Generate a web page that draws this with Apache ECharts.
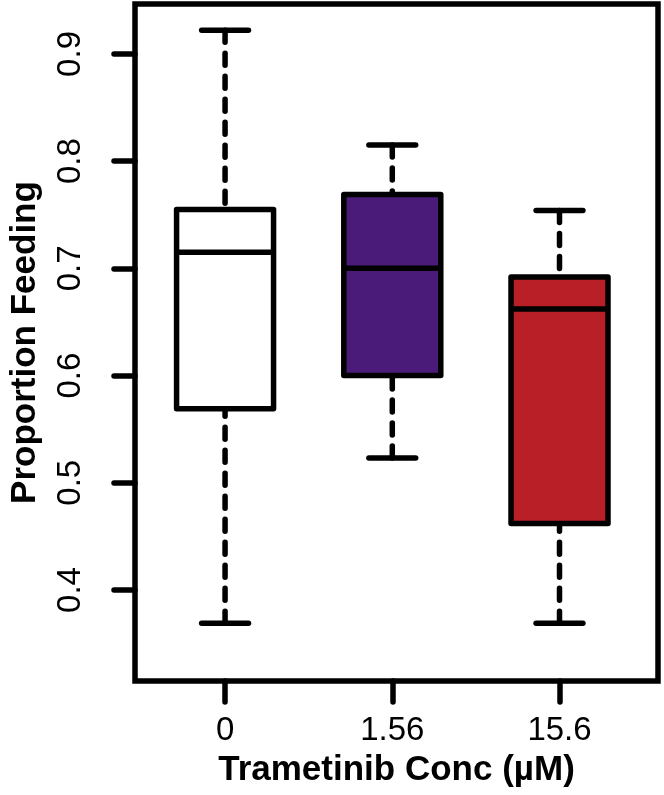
<!DOCTYPE html>
<html><head><meta charset="utf-8">
<script src="https://cdn.jsdelivr.net/npm/echarts@6/dist/echarts.min.js"></script>
<style>html,body{margin:0;padding:0;background:#fff}#c{width:664px;height:795px}</style>
</head><body><div id="c"></div>
<script>
// ---- data ----
const categories = ['0', '1.56', '15.6'];
const whiskerLow = [0.369, 0.523, 0.369];
const quartile1 = [0.569, 0.600, 0.462];
const medians = [0.715, 0.700, 0.662];
const quartile3 = [0.755, 0.769, 0.692];
const whiskerHigh = [0.922, 0.815, 0.754];
const yTicks = [0.4, 0.5, 0.6, 0.7, 0.8, 0.9];
const xTicks = [0, 1, 2];

// ---- style ----
const boxFills = ['#ffffff', '#4b1b7a', '#b91f27'];
const BOX_W = 0.58, STAPLE_W = 0.28, LW = 5.5;
const FONT = '"Liberation Sans", Arial, Helvetica, sans-serif';

const rows = categories.map((c, i) => [i, whiskerLow[i], quartile1[i], medians[i], quartile3[i], whiskerHigh[i]]);

function renderItem(params, api) {
  const x = api.value(0);
  const lo = api.value(1), q1 = api.value(2), md = api.value(3), q3 = api.value(4), hi = api.value(5);
  const p = (xx, yy) => api.coord([xx, yy]);
  const solid = {stroke: '#000', lineWidth: LW, lineCap: 'round', fill: null};
  const dashed = {stroke: '#000', lineWidth: LW, lineCap: 'round', lineDash: [12, 11], fill: null};
  const seg = (a, b, st) => ({type: 'line', shape: {x1: a[0], y1: a[1], x2: b[0], y2: b[1]}, style: st});
  const hb = BOX_W / 2, hs = STAPLE_W / 2;
  const b1 = p(x - hb, q3), b2 = p(x + hb, q1);
  return {type: 'group', children: [
    seg(p(x, hi), p(x, q3), dashed),
    seg(p(x, lo), p(x, q1), dashed),
    seg(p(x - hs, hi), p(x + hs, hi), solid),
    seg(p(x - hs, lo), p(x + hs, lo), solid),
    {type: 'rect', shape: {x: b1[0], y: b1[1], width: b2[0] - b1[0], height: b2[1] - b1[1]},
     style: {fill: boxFills[params.dataIndex], stroke: '#000', lineWidth: LW, lineJoin: 'round'}},
    seg(p(x - hb, md), p(x + hb, md), {stroke: '#000', lineWidth: LW, lineCap: 'butt'})
  ]};
}

const chart = echarts.init(document.getElementById('c'), null, {renderer: 'canvas'});
chart.setOption({
  animation: false,
  backgroundColor: '#fff',
  grid: {left: 124, right: 6, top: 4, bottom: 114, show: true, borderColor: '#000', borderWidth: LW, backgroundColor: 'transparent'},
  xAxis: {
    type: 'value', min: -0.5386, max: 2.589,
    name: 'Trametinib Conc (\u00b5M)', nameLocation: 'middle', nameGap: 72,
    nameTextStyle: {fontFamily: FONT, fontWeight: 'bold', fontSize: 35, color: '#000'},
    axisLine: {show: false, onZero: false}, splitLine: {show: false},
    axisTick: {show: true, length: 21, customValues: xTicks, lineStyle: {color: '#000', width: LW, cap: 'round'}},
    axisLabel: {customValues: xTicks, margin: 33, fontFamily: FONT, fontSize: 33, color: '#000',
      formatter: v => categories[Math.round(v)]}
  },
  yAxis: {
    type: 'value', min: 0.3151, max: 0.9466,
    name: 'Proportion Feeding', nameLocation: 'middle', nameGap: 92, nameRotate: 90,
    nameTextStyle: {fontFamily: FONT, fontWeight: 'bold', fontSize: 35, color: '#000'},
    axisLine: {show: false, onZero: false}, splitLine: {show: false},
    axisTick: {show: true, length: 21, customValues: yTicks, lineStyle: {color: '#000', width: LW, cap: 'round'}},
    axisLabel: {customValues: yTicks, rotate: 90, margin: 48, fontFamily: FONT, fontSize: 33, color: '#000',
      formatter: v => v.toFixed(1)}
  },
  series: [{
    type: 'custom', renderItem: renderItem, data: rows,
    encode: {x: 0, y: [1, 2, 3, 4, 5]}, clip: false
  }]
});
</script></body></html>
